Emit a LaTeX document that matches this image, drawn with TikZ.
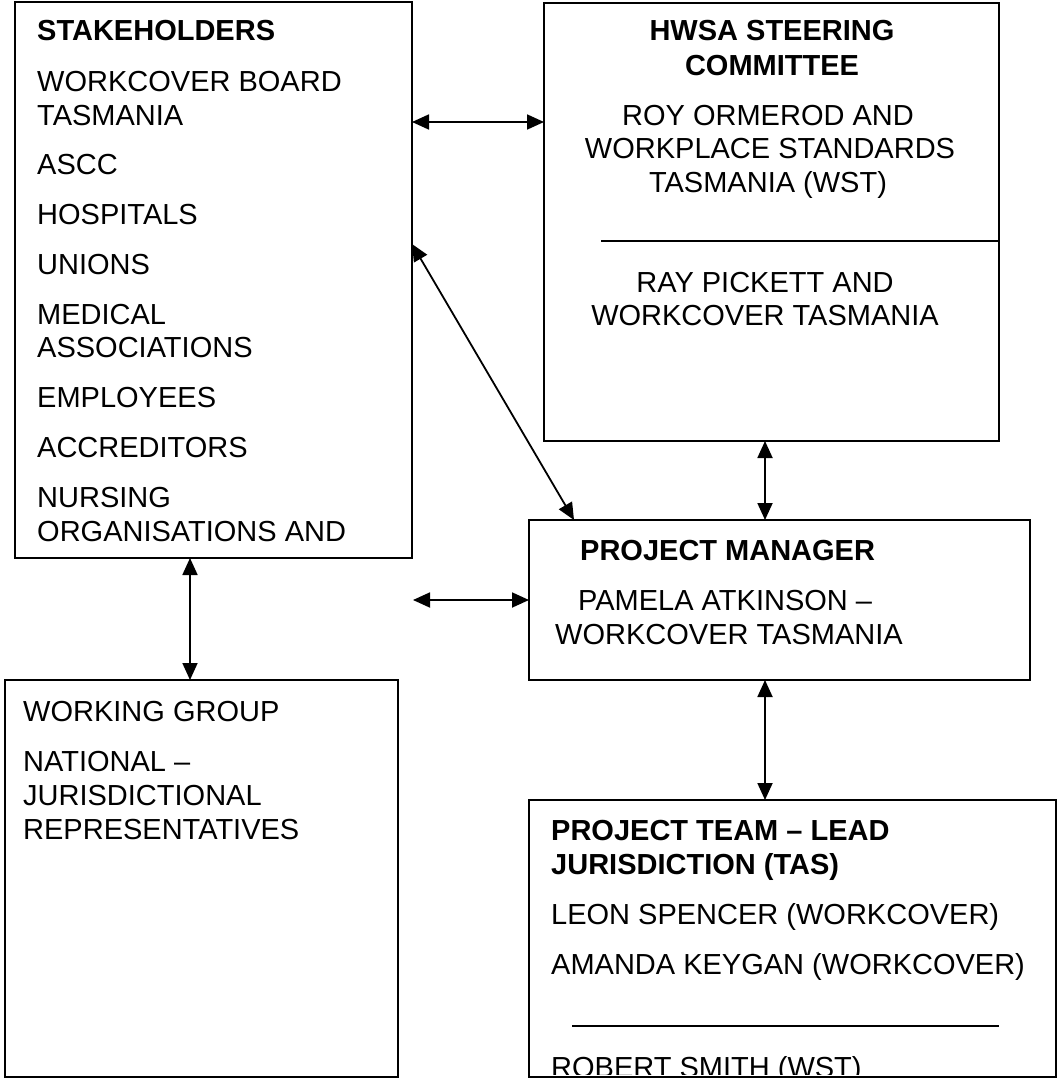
\documentclass[tikz,border=0pt]{standalone}
\usepackage{fontspec}
\setmainfont{Liberation Sans}
\usetikzlibrary{arrows.meta}
\begin{document}
\begin{tikzpicture}[x=1pt,y=-1pt,
  box/.style={draw,line width=2.2pt,outer sep=0pt,inner sep=0pt,anchor=north west},
  txt/.style={anchor=base west,inner sep=0pt,font=\fontsize{29}{34}\selectfont},
  ctxt/.style={anchor=base,inner sep=0pt,font=\fontsize{29}{34}\selectfont},
  btxt/.style={anchor=base west,inner sep=0pt,font=\fontsize{29}{34}\selectfont\bfseries},
  bctxt/.style={anchor=base,inner sep=0pt,font=\fontsize{29}{34}\selectfont\bfseries},
  sep/.style={line width=1.6pt},
  link/.style={line width=1.8pt,{Triangle[length=17pt,width=15pt]}-{Triangle[length=17pt,width=15pt]}}]
\useasboundingbox (0,0) rectangle (1058,1081);
% boxes
\node[box,minimum width=397pt,minimum height=556pt] (sh) at (15,2) {};
\node[box,minimum width=455pt,minimum height=438pt] (hw) at (544,3) {};
\node[box,minimum width=501pt,minimum height=160pt] (pm) at (529,520) {};
\node[box,minimum width=393pt,minimum height=397pt] (wg) at (5,680) {};
\node[box,minimum width=527pt,minimum height=277pt] (pt) at (529,800) {};
% stakeholders
\node[btxt] (t1) at (37,41) {STAKEHOLDERS};
\node[txt] (t2) at (37,91) {WORKCOVER BOARD};
\node[txt] (t3) at (37,125) {TASMANIA};
\node[txt] (t4) at (37,174) {ASCC};
\node[txt] (t5) at (37,224) {HOSPITALS};
\node[txt] (t6) at (37,274) {UNIONS};
\node[txt] (t7) at (37,324) {MEDICAL};
\node[txt] (t8) at (37,357) {ASSOCIATIONS};
\node[txt] (t9) at (37,407) {EMPLOYEES};
\node[txt] (t10) at (37,457) {ACCREDITORS};
\node[txt] (t11) at (37,507) {NURSING};
\node[txt] (t12) at (37,541) {ORGANISATIONS AND};
% HWSA
\node[bctxt] (h1) at (772,41) {HWSA STEERING};
\node[bctxt] (h2) at (772,75) {COMMITTEE};
\node[ctxt] (h3) at (768,125) {ROY ORMEROD AND};
\node[ctxt] (h4) at (770,158) {WORKPLACE STANDARDS};
\node[ctxt] (h5) at (768,192) {TASMANIA (WST)};
\node[ctxt] (h6) at (765,292) {RAY PICKETT AND};
\node[ctxt] (h7) at (765,325) {WORKCOVER TASMANIA};
\coordinate (hs1) at (601,241);
\coordinate (hs2) at (998,241);
\draw[sep] (hs1) -- (hs2);
% project manager
\node[btxt] (p1) at (580,560) {PROJECT MANAGER};
\node[txt] (p2) at (578,610) {PAMELA ATKINSON –};
\node[txt] (p3) at (555,644) {WORKCOVER TASMANIA};
% working group
\node[txt] (w1) at (23,721) {WORKING GROUP};
\node[txt] (w2) at (23,771) {NATIONAL –};
\node[txt] (w3) at (23,805) {JURISDICTIONAL};
\node[txt] (w4) at (23,839) {REPRESENTATIVES};
% project team
\node[btxt] (q1) at (551,840) {PROJECT TEAM – LEAD};
\node[btxt] (q2) at (551,874) {JURISDICTION (TAS)};
\node[txt] (q3) at (551,924) {LEON SPENCER (WORKCOVER)};
\node[txt] (q4) at (551,974) {AMANDA KEYGAN (WORKCOVER)};
\coordinate (qs1) at (572,1026);
\coordinate (qs2) at (999,1026);
\draw[sep] (qs1) -- (qs2);
\begin{scope}
\clip (530,801) rectangle (1055,1074);
\node[txt] (q5) at (551,1077) {ROBERT SMITH (WST)};
\end{scope}
% connectors
\draw[link] ([yshift=-120pt]sh.north east) -- ([yshift=-119pt]hw.north west);
\draw[link] ([yshift=-242pt]sh.north east) -- ([xshift=45pt]pm.north west);
\draw[link] ([xshift=221pt]hw.south west) -- ([xshift=236pt]pm.north west);
\coordinate (a4) at (413,600);
\draw[link] (a4) -- (pm.west |- a4);
\draw[link] ([xshift=175pt]sh.south west) -- ([xshift=175pt]sh.south west |- wg.north);
\draw[link] ([xshift=236pt]pm.south west) -- ([xshift=236pt]pm.south west |- pt.north);
\end{tikzpicture}
\end{document}
